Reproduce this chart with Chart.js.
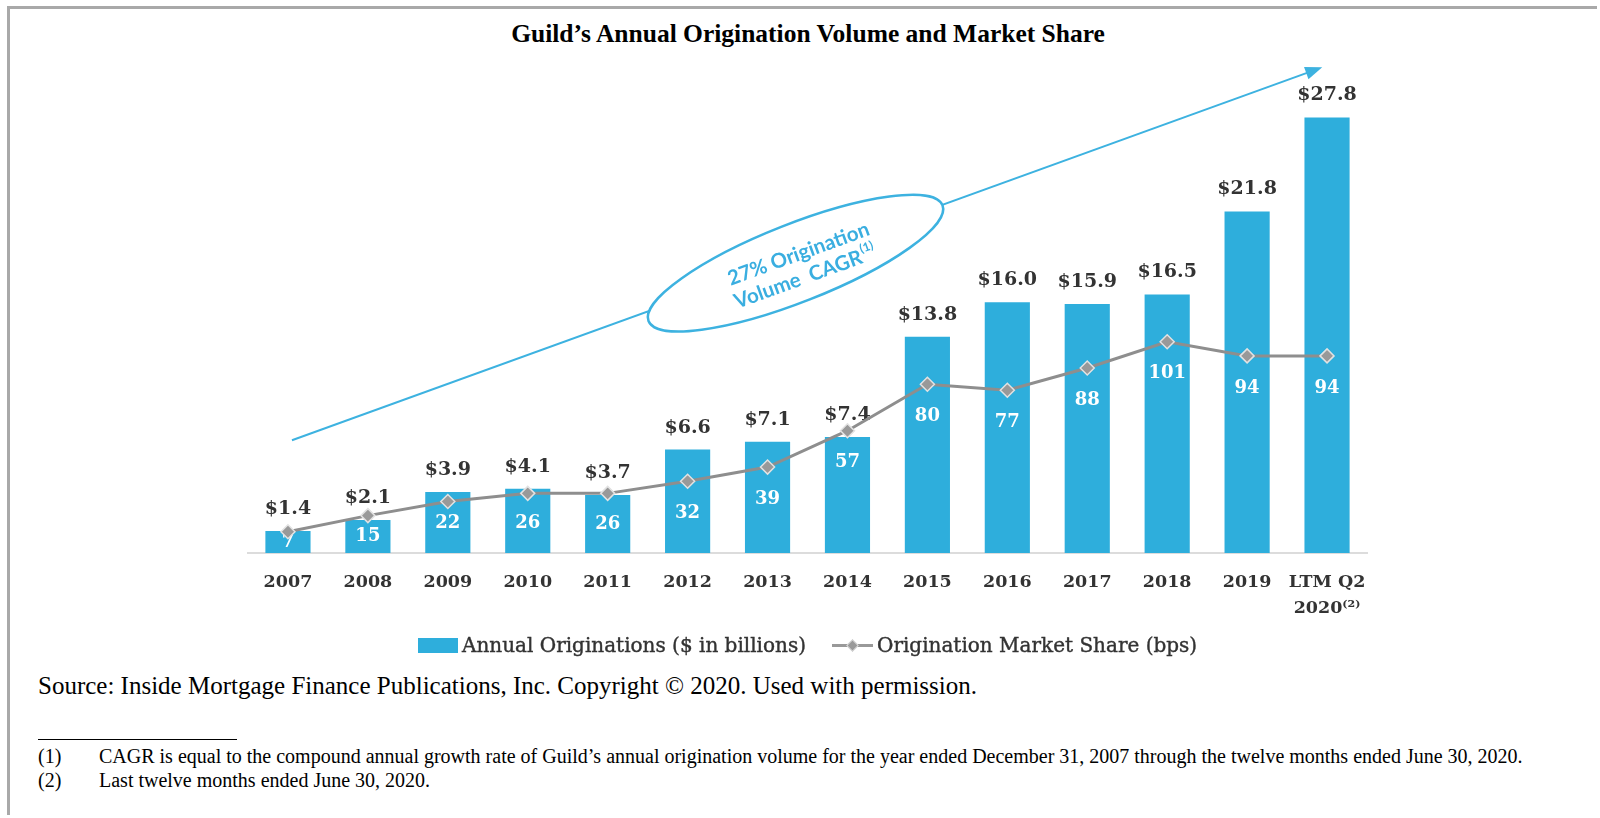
<!DOCTYPE html>
<html>
<head>
<meta charset="utf-8">
<script src="https://cdn.jsdelivr.net/npm/chart.js@4"></script>
<style>
  html, body { margin: 0; padding: 0; background: #fff; overflow: hidden; }
  #page { width: 1600px; height: 818px; position: relative; overflow: hidden; }
  #frame { position: absolute; left: 7px; top: 6px; width: 1590px; height: 809px;
    border-top: 3px solid #a9a9a9; border-left: 3px solid #a9a9a9; box-sizing: border-box; }
  #chart { position: absolute; left: 0; top: 0; }
  #title { position: absolute; left: 0; top: 19px; width: 1600px; padding-left: 16px; box-sizing: border-box;
    text-align: center; font: bold 25.5px "Liberation Serif", serif; color: #000; }
  .leg { position: absolute; top: 633px; font: 20px "DejaVu Serif", serif; color: #333;
    white-space: nowrap; -webkit-text-stroke: 0.4px #333; }
  #box { position: absolute; left: 418px; top: 638px; width: 40px; height: 15px; background: #2eaedc; }
  #lineicon { position: absolute; left: 832px; top: 644px; width: 41px; height: 3px; background: #999; }
  #diamond { position: absolute; left: 848px; top: 641px; width: 7px; height: 7px; background: #999;
    border: 1px solid #ddd; transform: rotate(45deg); }
  #source { position: absolute; left: 38px; top: 672px; font: 25px "Liberation Serif", serif; color: #000; white-space: nowrap; }
  #rule { position: absolute; left: 38px; top: 739px; width: 199px; height: 1px; background: #000; }
  .fn { position: absolute; font: 20px "Liberation Serif", serif; color: #000; white-space: nowrap; }
</style>
</head>
<body>
<div id="page">
<div id="frame"></div>
<div id="title">Guild’s Annual Origination Volume and Market Share</div>
<canvas id="chart" width="1600" height="640"></canvas>
<div id="box"></div>
<div class="leg" style="left:462px">Annual Originations ($ in billions)</div>
<div id="lineicon"></div><div id="diamond"></div>
<div class="leg" style="left:877px">Origination Market Share (bps)</div>
<div id="source">Source: Inside Mortgage Finance Publications, Inc. Copyright © 2020. Used with permission.</div>
<div id="rule"></div>
<div class="fn" style="left:38px;top:745px">(1)</div>
<div class="fn" style="left:99px;top:745px">CAGR is equal to the compound annual growth rate of Guild’s annual origination volume for the year ended December 31, 2007 through the twelve months ended June 30, 2020.</div>
<div class="fn" style="left:38px;top:769px">(2)</div>
<div class="fn" style="left:99px;top:769px">Last twelve months ended June 30, 2020.</div>
</div>
<script>
const years = ["2007", "2008", "2009", "2010", "2011", "2012", "2013", "2014",
  "2015", "2016", "2017", "2018", "2019", ["LTM Q2", "2020⁽²⁾"]];
const volume = [1.4, 2.1, 3.9, 4.1, 3.7, 6.6, 7.1, 7.4, 13.8, 16.0, 15.9, 16.5, 21.8, 27.8];
const share = [7, 15, 22, 26, 26, 32, 39, 57, 80, 77, 88, 101, 94, 94];

const BLUE = "#2eaedc";
const SLAB = "'DejaVu Serif', serif";

// bar values on top, share numbers inside the bars (drawn before the line)
const labelPlugin = {
  id: "barLabels",
  afterDatasetDraw(chart, args) {
    if (args.index !== 1) return;
    const ctx = chart.ctx;
    const bars = chart.getDatasetMeta(1).data;
    const pts = chart.getDatasetMeta(0).data;
    ctx.save();
    ctx.textAlign = "center";
    ctx.textBaseline = "middle";
    bars.forEach((b, i) => {
      ctx.fillStyle = "#333";
      ctx.font = "bold 19px " + SLAB;
      ctx.fillText("$" + volume[i].toFixed(1), b.x, b.y - 22);
      const mid = (b.y + b.base) / 2;
      const ly = Math.min(pts[i].y + 32, Math.max(mid, b.base - 30));
      ctx.fillStyle = "#fff";
      ctx.font = "bold 18px " + SLAB;
      ctx.fillText(String(share[i]), b.x, ly);
    });
    ctx.restore();
  }
};

// CAGR arrow with the ellipse callout
const cagrPlugin = {
  id: "cagr",
  beforeDatasetsDraw(chart) {
    const ctx = chart.ctx;
    const x = chart.scales.x, y = chart.scales.y;
    const x0 = x.getPixelForValue(0.05), y0 = y.getPixelForValue(7.2);
    const x1 = x.getPixelForValue(12.94), y1 = y.getPixelForValue(31.0);
    const ang = Math.atan2(y1 - y0, x1 - x0);
    ctx.save();
    ctx.strokeStyle = "#3db2e0";
    ctx.fillStyle = "#3db2e0";
    ctx.lineWidth = 2;
    ctx.beginPath();
    ctx.moveTo(x0, y0);
    ctx.lineTo(x1 - 14 * Math.cos(ang), y1 - 14 * Math.sin(ang));
    ctx.stroke();
    ctx.translate(x1, y1);
    ctx.rotate(ang);
    ctx.beginPath();
    ctx.moveTo(0, 0);
    ctx.lineTo(-17, -6.5);
    ctx.lineTo(-17, 6.5);
    ctx.closePath();
    ctx.fill();
    ctx.restore();

    const cx = x.getPixelForValue(6.35), cy = y.getPixelForValue(18.5);
    ctx.save();
    ctx.translate(cx, cy);
    ctx.rotate(-21.5 * Math.PI / 180);
    ctx.beginPath();
    ctx.ellipse(0, 0, 158, 39, 0, 0, Math.PI * 2);
    ctx.fillStyle = "#fff";
    ctx.fill();
    ctx.strokeStyle = "#3db2e0";
    ctx.lineWidth = 2.5;
    ctx.stroke();
    ctx.rotate(1.5 * Math.PI / 180);
    ctx.fillStyle = "#3aaee0";
    ctx.textBaseline = "alphabetic";
    ctx.textAlign = "center";
    ctx.font = "bold 20.5px Lato, sans-serif";
    ctx.fillText("27% Origination", 6, -1);
    const t2 = "Volume  CAGR";
    const w2 = ctx.measureText(t2).width;
    ctx.fillText(t2, -3, 23);
    ctx.textAlign = "left";
    ctx.font = "bold 12px Lato, sans-serif";
    ctx.fillText("(1)", -3 + w2 / 2 + 1, 13);
    ctx.restore();
  }
};

new Chart(document.getElementById("chart"), {
  data: {
    labels: years,
    datasets: [
      {
        type: "line",
        label: "Origination Market Share (bps)",
        data: share,
        yAxisID: "y2",
        borderColor: "#8e8e8e",
        borderWidth: 3,
        pointStyle: "rectRot",
        pointRadius: 7,
        pointBackgroundColor: "#999",
        pointBorderColor: "#e2e2e2",
        pointBorderWidth: 1.5,
        tension: 0
      },
      {
        type: "bar",
        label: "Annual Originations ($ in billions)",
        data: volume,
        yAxisID: "y",
        backgroundColor: BLUE,
        barPercentage: 0.565,
        categoryPercentage: 1
      }
    ]
  },
  options: {
    responsive: false,
    animation: false,
    layout: { padding: { left: 248, right: 233, top: 83, bottom: 17 } },
    plugins: { legend: { display: false }, tooltip: { enabled: false } },
    scales: {
      x: {
        grid: { display: false, drawTicks: false },
        border: { display: true, color: "#dcdcdc", width: 2 },
        ticks: { color: "#333", padding: 17, maxRotation: 0, minRotation: 0, autoSkip: false,
          font: { family: "DejaVu Serif", size: 17.5, weight: "bold", lineHeight: 1.45 } },
        afterFit: s => { s.height = 70; }
      },
      y: { display: false, min: 0, max: 30 },
      y2: { display: false, min: -3.5, max: 229 }
    }
  },
  plugins: [labelPlugin, cagrPlugin]
});
</script>
</body>
</html>
